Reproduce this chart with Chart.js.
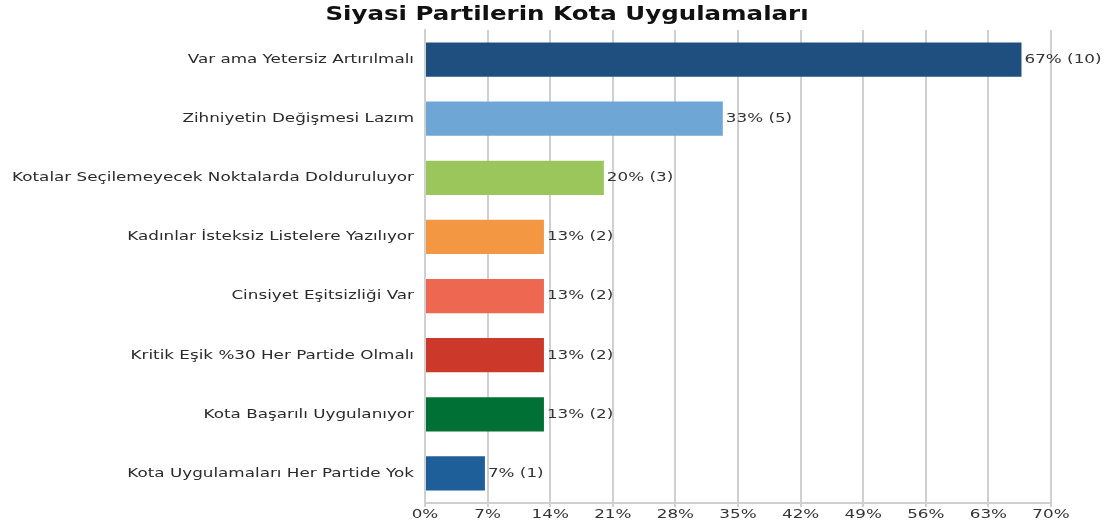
<!DOCTYPE html>
<html>
<head>
<meta charset="utf-8">
<script src="https://cdn.jsdelivr.net/npm/chart.js@4/dist/chart.umd.min.js"></script>
<style>
  html, body { margin: 0; padding: 0; background: #fff; }
  #wrap { width: 1105px; height: 524px; }
</style>
</head>
<body>
<div id="wrap"><canvas id="kotaChart"></canvas></div>
<script>
// veriler
const chartTitle = 'Siyasi Partilerin Kota Uygulamaları';
const categories = [
  'Var ama Yetersiz Artırılmalı',
  'Zihniyetin Değişmesi Lazım',
  'Kotalar Seçilemeyecek Noktalarda Dolduruluyor',
  'Kadınlar İsteksiz Listelere Yazılıyor',
  'Cinsiyet Eşitsizliği Var',
  'Kritik Eşik %30 Her Partide Olmalı',
  'Kota Başarılı Uygulanıyor',
  'Kota Uygulamaları Her Partide Yok'
];
const percents = [66.7, 33.3, 20, 13.3, 13.3, 13.3, 13.3, 6.7];
const counts = [10, 5, 3, 2, 2, 2, 2, 1];
const barColors = ['#1f4f7e', '#6ea6d6', '#9ac65c', '#f39742', '#ee6751', '#cc3829', '#007034', '#1f5f99'];
const xTicks = [0, 7, 14, 21, 28, 35, 42, 49, 56, 63, 70];

const fontFamily = '"DejaVu Sans", sans-serif';
const stretch = 1.29; // orijinaldeki yazilar yatayda genis

function wideText(ctx, txt, x, y, align) {
  ctx.save();
  ctx.translate(x, y);
  ctx.scale(stretch, 1);
  ctx.textAlign = align;
  ctx.fillText(txt, 0, 0);
  ctx.restore();
}

// basliк, eksen yazilari ve bar etiketleri
const wideLabels = {
  id: 'wideLabels',
  afterDraw(chart) {
    const ctx = chart.ctx;
    const xs = chart.scales.x;
    const ys = chart.scales.y;
    const meta = chart.getDatasetMeta(0);
    ctx.save();
    ctx.textBaseline = 'middle';

    ctx.font = 'bold 19px ' + fontFamily;
    ctx.fillStyle = '#111';
    wideText(ctx, chartTitle, 567, 15, 'center');

    ctx.font = '13px ' + fontFamily;
    ctx.fillStyle = '#2a2a2a';
    categories.forEach((c, i) => {
      wideText(ctx, c, ys.right - 11, ys.getPixelForValue(i), 'right');
    });

    ctx.fillStyle = '#333';
    xTicks.forEach(v => {
      wideText(ctx, v + '%', xs.getPixelForValue(v), xs.top + 12, 'center');
    });

    meta.data.forEach((bar, i) => {
      const txt = Math.round(percents[i]) + '% (' + counts[i] + ')';
      wideText(ctx, txt, bar.x + 3, bar.y, 'left');
    });
    ctx.restore();
  }
};

new Chart(document.getElementById('kotaChart'), {
  type: 'bar',
  data: {
    labels: categories,
    datasets: [{
      data: percents,
      backgroundColor: barColors,
      borderWidth: 0,
      barPercentage: 0.58,
      categoryPercentage: 1
    }]
  },
  options: {
    indexAxis: 'y',
    responsive: true,
    maintainAspectRatio: false,
    animation: false,
    layout: { padding: { left: 0, right: 54, top: 30, bottom: 0 } },
    plugins: {
      legend: { display: false },
      tooltip: { enabled: false },
      title: { display: false }
    },
    scales: {
      x: {
        min: 0,
        max: 70,
        afterBuildTicks(scale) {
          scale.ticks = xTicks.map(v => ({ value: v }));
        },
        afterFit(scale) { scale.height = 21; },
        grid: { color: '#d0d0d0', lineWidth: 2, tickLength: 4, drawTicks: true },
        border: { display: true, color: '#d0d0d0', width: 2 },
        ticks: { display: false }
      },
      y: {
        afterFit(scale) { scale.width = 425; },
        grid: { display: false },
        border: { display: true, color: '#d0d0d0', width: 2 },
        ticks: { display: false }
      }
    }
  },
  plugins: [wideLabels]
});
</script>
</body>
</html>
